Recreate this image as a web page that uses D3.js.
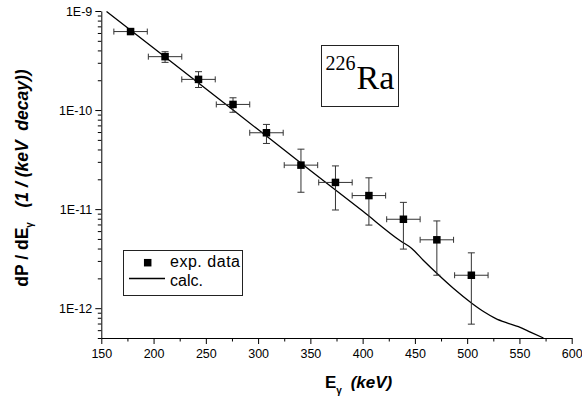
<!DOCTYPE html>
<html>
<head>
<meta charset="utf-8">
<script src="https://cdn.jsdelivr.net/npm/d3@7"></script>
<style>
  body { margin: 0; background: #fff; }
  svg { display: block; font-family: "Liberation Sans", Arial, sans-serif; }
</style>
</head>
<body>
<div class="chart"></div>
<script>
// measured points (E in keV, dP/dE in 1/(keV decay))
const expEnergy = [178, 211, 243, 276, 308, 341, 374, 406, 439, 471, 504];
const expValue  = [6.2e-10, 3.46e-10, 2.04e-10, 1.14e-10, 5.9e-11, 2.78e-11, 1.86e-11, 1.37e-11, 7.9e-12, 4.9e-12, 2.15e-12];
const expLow    = [5.9e-10, 3.03e-10, 1.69e-10, 9.5e-11, 4.6e-11, 1.48e-11, 9.8e-12, 6.9e-12, 3.95e-12, 2.15e-12, 6.9e-13];
const expHigh   = [6.5e-10, 3.88e-10, 2.44e-10, 1.33e-10, 7.16e-11, 4.03e-11, 2.73e-11, 2.07e-11, 1.17e-11, 7.6e-12, 3.62e-12];
const expErrE   = [16, 16, 16, 16, 16, 16, 16, 16, 16, 16, 16];

// calculated curve
const calcEnergy = [155, 200, 250, 300, 350, 400, 436, 447, 458, 473, 487, 505, 516, 527, 538, 549, 561, 573];
const calcValue  = [9.9e-10, 4.23e-10, 1.64e-10, 6.35e-11, 2.46e-11, 9.55e-12, 4.79e-12, 4.01e-12, 3.05e-12, 2.15e-12,
                    1.58e-12, 1.11e-12, 9.2e-13, 7.9e-13, 7.1e-13, 6.5e-13, 5.7e-13, 5.0e-13];

// axis ticks
const xMajor = [150, 200, 250, 300, 350, 400, 450, 500, 550, 600];
const xMinor = [175, 225, 275, 325, 375, 425, 475, 525, 575];
const yMajor = [1e-12, 1e-11, 1e-10, 1e-9];
const yMajorLabels = ["1E-12", "1E-11", "1E-10", "1E-9"];

var width = 582,
    height = 402;

const sans = "'Liberation Sans', Arial, sans-serif",
      serif = "'Liberation Serif', 'Times New Roman', serif";

var x = d3.scaleLinear()
    .domain([150, 600])
    .range([101.3, 571.7]);

var y = d3.scaleLog()
    .domain([5e-13, 1e-9])
    .range([338, 11]);

// minor log ticks 2..9 per decade
let yMinor = [];
[1e-13, 1e-12, 1e-11, 1e-10].forEach(d => {
    for (let k = 2; k <= 9; k++) {
        let v = d * k;
        if (v >= 5e-13 && v < 1e-9) yMinor.push(v);
    }
});

const svg = d3.select(".chart").append("svg")
    .attr("width", width)
    .attr("height", height)
    .attr("viewBox", [0, 0, width, height]);

// axes
svg.append("g")
    .attr("transform", `translate(0,${y.range()[0]})`)
    .call(d3.axisBottom(x).tickValues(xMinor).tickSize(3.5).tickFormat(""))
    .call(g => g.select(".domain").remove());

svg.append("g")
    .attr("transform", `translate(0,${y.range()[0]})`)
    .call(d3.axisBottom(x).tickValues(xMajor).tickSize(6).tickSizeOuter(0).tickPadding(5))
    .call(g => g.attr("font-family", sans).attr("font-size", 12.5))
    .call(g => g.selectAll("text").attr("fill", "#000"));

svg.append("g")
    .attr("transform", `translate(${x.range()[0]},0)`)
    .call(d3.axisLeft(y).tickValues(yMinor).tickSize(3.5).tickFormat(""))
    .call(g => g.select(".domain").remove());

svg.append("g")
    .attr("transform", `translate(${x.range()[0]},0)`)
    .call(d3.axisLeft(y).tickValues(yMajor).tickSize(6).tickSizeOuter(0).tickPadding(3)
        .tickFormat((d, i) => yMajorLabels[i]))
    .call(g => g.attr("font-family", sans).attr("font-size", 12.5))
    .call(g => g.selectAll("text").attr("fill", "#000"));

svg.selectAll(".tick line, .domain").attr("stroke", "#000");

// calc curve
let line = d3.line()
    .x((d, i) => x(calcEnergy[i]))
    .y(d => y(d))
    .curve(d3.curveMonotoneX);

svg.append("path")
    .attr("fill", "none")
    .attr("stroke", "#000")
    .attr("stroke-width", 1.3)
    .attr("d", line(calcValue));

// error bars
const errs = svg.append("g")
    .attr("stroke", "#333")
    .attr("stroke-width", 1)
    .selectAll("g")
    .data(expValue)
    .join("g");

errs.append("line")
    .attr("x1", (d, i) => x(expEnergy[i] - expErrE[i]))
    .attr("x2", (d, i) => x(expEnergy[i] + expErrE[i]))
    .attr("y1", d => y(d))
    .attr("y2", d => y(d));
errs.append("line")
    .attr("x1", (d, i) => x(expEnergy[i] - expErrE[i]))
    .attr("x2", (d, i) => x(expEnergy[i] - expErrE[i]))
    .attr("y1", d => y(d) - 3)
    .attr("y2", d => y(d) + 3);
errs.append("line")
    .attr("x1", (d, i) => x(expEnergy[i] + expErrE[i]))
    .attr("x2", (d, i) => x(expEnergy[i] + expErrE[i]))
    .attr("y1", d => y(d) - 3)
    .attr("y2", d => y(d) + 3);
errs.append("line")
    .attr("x1", (d, i) => x(expEnergy[i]))
    .attr("x2", (d, i) => x(expEnergy[i]))
    .attr("y1", (d, i) => y(expLow[i]))
    .attr("y2", (d, i) => y(expHigh[i]));
[expLow, expHigh].forEach(arr => {
    errs.append("line")
        .attr("x1", (d, i) => x(expEnergy[i]) - 3.5)
        .attr("x2", (d, i) => x(expEnergy[i]) + 3.5)
        .attr("y1", (d, i) => y(arr[i]))
        .attr("y2", (d, i) => y(arr[i]));
});

// markers
const ms = 7.5;
svg.append("g")
    .selectAll("rect")
    .data(expValue)
    .join("rect")
    .attr("x", (d, i) => x(expEnergy[i]) - ms / 2)
    .attr("y", d => y(d) - ms / 2)
    .attr("width", ms)
    .attr("height", ms)
    .attr("fill", "#000");

// legend
const legend = svg.append("g").attr("font-family", sans);
legend.append("rect")
    .attr("x", 123.5).attr("y", 250.5)
    .attr("width", 119).attr("height", 45)
    .attr("fill", "none").attr("stroke", "#222");
legend.append("rect")
    .attr("x", 147.7 - ms / 2).attr("y", 262.7 - ms / 2)
    .attr("width", ms).attr("height", ms)
    .attr("fill", "#000");
legend.append("line")
    .attr("x1", 129).attr("x2", 165)
    .attr("y1", 278.5).attr("y2", 278.5)
    .attr("stroke", "#000").attr("stroke-width", 1.3);
legend.append("text")
    .attr("x", 170).attr("y", 267.3)
    .attr("font-size", 16)
    .attr("textLength", 70)
    .text("exp. data");
legend.append("text")
    .attr("x", 170).attr("y", 285.5)
    .attr("font-size", 16)
    .text("calc.");

// isotope box
const iso = svg.append("g").attr("font-family", serif);
iso.append("rect")
    .attr("x", 321.5).attr("y", 45.5)
    .attr("width", 77).attr("height", 61)
    .attr("fill", "none").attr("stroke", "#222");
iso.append("text")
    .attr("x", 325.5).attr("y", 70)
    .attr("font-size", 20)
    .text("226");
iso.append("text")
    .attr("x", 356.5).attr("y", 89.3)
    .attr("font-size", 34)
    .text("Ra");

// x label
const xl = svg.append("text")
    .attr("x", 325).attr("y", 388.3)
    .attr("font-family", sans)
    .attr("font-size", 17)
    .attr("font-weight", "bold");
xl.append("tspan").text("E");
xl.append("tspan").attr("dy", 6).attr("font-size", 10).text("\u03b3");
xl.append("tspan").attr("x", 350.7).attr("dy", -6).attr("font-style", "italic").text("(keV)");

// y label
const yl = svg.append("text")
    .attr("transform", "translate(28,178) rotate(-90)")
    .attr("text-anchor", "middle")
    .attr("font-family", sans)
    .attr("font-size", 17.5)
    .attr("font-weight", "bold");
yl.append("tspan").text("dP / dE");
yl.append("tspan").attr("dy", 5).attr("font-size", 10).text("\u03b3");
yl.append("tspan").attr("dy", -5).attr("font-style", "italic").text("\u00a0\u00a0\u00a0(1 / (keV\u00a0\u00a0decay))");
</script>
</body>
</html>
